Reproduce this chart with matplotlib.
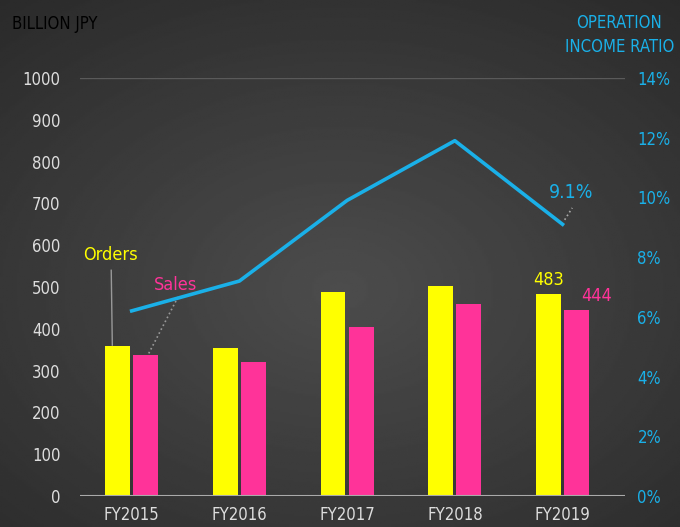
import matplotlib as mpl
mpl.use('Agg')
import matplotlib.pyplot as plt
import numpy as np

years = ['FY2015', 'FY2016', 'FY2017', 'FY2018', 'FY2019']
orders = [359, 354, 488, 502, 483]
sales = [337, 321, 404, 459, 444]
ratio = [6.2, 7.2, 9.9, 11.9, 9.1]

yellow = '#ffff00'
pink = '#ff3399'
blue = '#1ab0e8'
grey = '#dddddd'

plt.rcParams['font.family'] = ['DejaVu Sans']
plt.rcParams['font.stretch'] = 'condensed'

fig = plt.figure(figsize=(6.8, 5.27), dpi=100)

# background radial gradient
bg = fig.add_axes([0, 0, 1, 1])
yy, xx = np.mgrid[0:1:300j, 0:1:300j]
r = np.sqrt((xx - 0.5) ** 2 + ((yy - 0.45) * 1.1) ** 2)
bg.imshow(0.30 - 0.17 * r, cmap='gray', vmin=0, vmax=1, aspect='auto',
          extent=[0, 1, 0, 1], origin='lower')
bg.axis('off')

ax = fig.add_axes([80 / 680, 1 - 496 / 527, 545 / 680, 418 / 527])
ax.set_facecolor('none')
x = np.arange(len(years))
w = 0.23
ax.bar(x - 0.13, orders, w, color=yellow, zorder=3)
ax.bar(x + 0.13, sales, w, color=pink, zorder=3)
ax.set_xlim(-0.48, 4.58)
ax.set_ylim(0, 1000)
ax.set_yticks(range(0, 1001, 100))
ax.set_xticks(x)
ax.set_xticklabels(years)
ax.tick_params(axis='both', length=0, colors=grey, labelsize=12)
ax.tick_params(axis='y', pad=14)
ax.tick_params(axis='x', pad=7)
for s in ax.spines.values():
    s.set_visible(False)
ax.axhline(0, color='#aaaaaa', lw=1.5, zorder=4)
ax.axhline(1000, color='#5a5a5a', lw=1, zorder=1)

ax2 = ax.twinx()
ax2.plot(x, ratio, color=blue, lw=2.6, zorder=5)
ax2.set_ylim(0, 14)
ax2.set_yticks(range(0, 15, 2))
ax2.set_yticklabels([f'{v}%' for v in range(0, 15, 2)])
ax2.tick_params(axis='y', length=0, colors=blue, labelsize=12, pad=9)
for s in ax2.spines.values():
    s.set_visible(False)

# data labels
ax.text(-0.45, 576, 'Orders', color=yellow, fontsize=13, va='center')
ax.text(0.21, 505, 'Sales', color=pink, fontsize=13, va='center')
ax.plot([-0.19, -0.18], [540, 361], color='#999999', lw=1, zorder=2)
ax.plot([0.43, 0.15], [476, 337], color='#999999', lw=1.2,
        ls=':', zorder=2)
ax.text(x[4] - 0.13, orders[4] + 12, str(orders[4]), color=yellow,
        fontsize=13, ha='center', va='bottom')
ax.text(x[4] + 0.32, sales[4] + 12, str(sales[4]), color=pink,
        fontsize=13, ha='center', va='bottom')
ax2.text(x[4] + 0.08, ratio[4] + 0.75, f'{ratio[4]}%', color=blue,
         fontsize=14, ha='center', va='bottom')
ax2.plot([x[4] + 0.02, x[4] + 0.09], [ratio[4] + 0.15, ratio[4] + 0.55],
         color='#aaaaaa', lw=1.2, ls=':', zorder=4)

fig.text(12 / 680, 1 - 24 / 527, 'BILLION JPY', color='black', fontsize=12,
         va='center')
fig.text(674 / 680, 1 - 35 / 527, 'OPERATION\nINCOME RATIO', color=blue,
         fontsize=12, ha='right', va='center', multialignment='center',
         linespacing=1.5)

fig.savefig('out.png', dpi=100)
plt.close()
